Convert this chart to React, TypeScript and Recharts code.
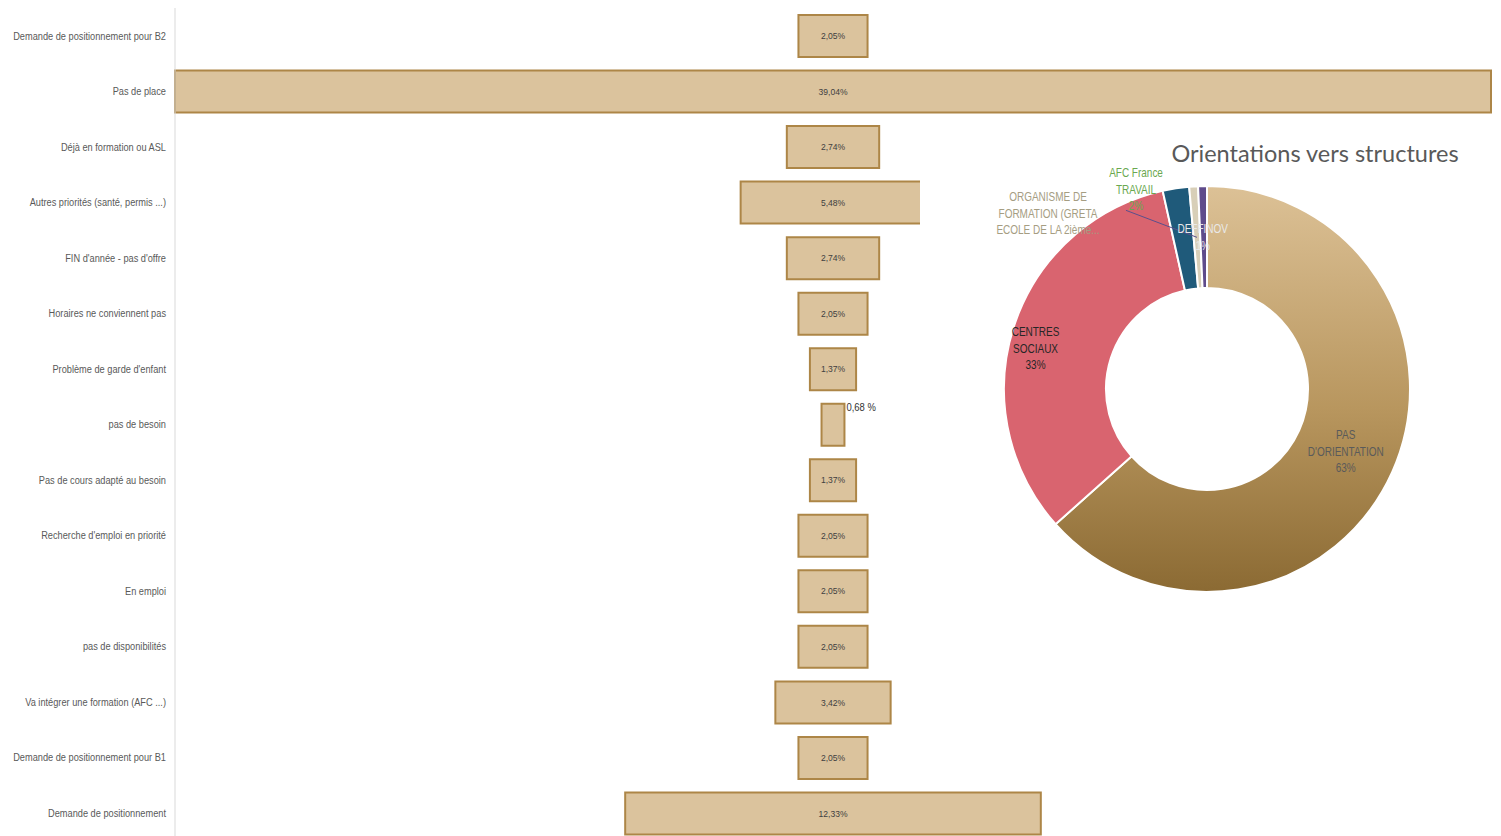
import React from 'react';
import { BarChart, Bar, XAxis, YAxis, LabelList, PieChart, Pie, Cell } from 'recharts';

// ---- Data ----
const categories = [
  'Demande de positionnement pour B2',
  'Pas de place',
  'Déjà en formation ou ASL',
  'Autres priorités (santé, permis ...)',
  "FIN d'année - pas d'offre",
  'Horaires ne conviennent pas',
  "Problème de garde d'enfant",
  'pas de besoin',
  'Pas de cours adapté au besoin',
  "Recherche d'emploi en priorité",
  'En emploi',
  'pas de disponibilités',
  'Va intégrer une formation (AFC ...)',
  'Demande de positionnement pour B1',
  'Demande de positionnement',
];
const values = [2.05, 39.04, 2.74, 5.48, 2.74, 2.05, 1.37, 0.68, 1.37, 2.05, 2.05, 2.05, 3.42, 2.05, 12.33];

const pieNames = [
  "PAS D'ORIENTATION",
  'CENTRES SOCIAUX',
  'AFC France TRAVAIL',
  'ORGANISME DE FORMATION (GRETA ECOLE DE LA 2ième...',
  'DEFFINOV',
];
const pieValues = [63.4, 33.1, 2.1, 0.7, 0.7];
const pieLabelLines = [
  ['PAS', "D'ORIENTATION"],
  ['CENTRES', 'SOCIAUX'],
  ['AFC France', 'TRAVAIL'],
  ['ORGANISME DE', 'FORMATION (GRETA', 'ECOLE DE LA 2ième...'],
  ['DEFFINOV'],
];
const pieShowPct = [true, true, true, false, true];
const pieTitle = 'Orientations vers structures';

// ---- Derived tables ----
const MAX = Math.max(...values);
const barData = categories.map((name, i) => ({
  name,
  value: values[i],
  offset: (MAX - values[i]) / 2,
}));
const pieData = pieNames.map((name, i) => ({ name, value: pieValues[i] }));

// ---- Styles ----
const SANS = '"Liberation Sans", Arial, sans-serif';
const pieColors = ['url(#tanGrad)', '#d9646f', '#1f5a7a', '#d8cfb8', '#5f4b8b'];
const pieLabelColors = ['#5a5a5a', '#262626', '#6aa84f', '#a59d82', '#e9e9e9'];
const pieLabelGeom = [
  { r: 152, dx: 0, dy: 0 },
  { r: 178, dx: -2, dy: 14 },
  { r: 215, dx: -38, dy: 13 },
  { r: 152, dx: -149, dy: -24 },
  { r: 152, dx: -1, dy: 0 },
];

const fmt = (v: number) => v.toFixed(2).replace('.', ',');

const CategoryTick = (props: any) => {
  const { x, y, payload } = props;
  return (
    <text
      transform={`translate(${x},${y}) scale(0.84,1)`}
      textAnchor="end"
      dominantBaseline="central"
      fontSize={11}
      fill="#595959"
      fontFamily={SANS}
    >
      {payload.value}
    </text>
  );
};

const BarLabel = (props: any) => {
  const { x, y, width, height, value } = props;
  if (value < 1) {
    return (
      <text
        transform={`translate(${x + width + 2},${y + 7}) scale(0.9,1)`}
        fontSize={10.5}
        fill="#333"
        fontFamily={SANS}
      >
        {fmt(value) + ' %'}
      </text>
    );
  }
  return (
    <text
      transform={`translate(${x + width / 2},${y + height / 2}) scale(0.9,1)`}
      textAnchor="middle"
      dominantBaseline="central"
      fontSize={9.5}
      fill="#404040"
      fontFamily={SANS}
    >
      {fmt(value) + '%'}
    </text>
  );
};

const RAD = Math.PI / 180;
const renderPieLabel = (props: any) => {
  const { cx, cy, midAngle, index, value } = props;
  const g = pieLabelGeom[index];
  const px = cx + g.r * Math.cos(-midAngle * RAD);
  const py = cy + g.r * Math.sin(-midAngle * RAD);
  const lx = px + g.dx;
  const ly = py + g.dy;
  const lines = [...pieLabelLines[index]];
  if (pieShowPct[index]) lines.push(`${Math.round(value)}%`);
  const lh = 16.5;
  const y0 = ly - ((lines.length - 1) * lh) / 2;
  return (
    <g key={`lbl-${index}`}>
      {index === 3 && (
        <line x1={px} y1={py} x2={lx + 78} y2={ly - 3} stroke="#5a4f8c" strokeWidth={1} />
      )}
      <text
        transform={`translate(${lx},${y0}) scale(0.8,1)`}
        textAnchor="middle"
        fontSize={12.5}
        fill={pieLabelColors[index]}
        fontFamily={SANS}
      >
        {lines.map((t, k) => (
          <tspan key={k} x={0} y={k * lh} dominantBaseline="central">
            {t}
          </tspan>
        ))}
      </text>
    </g>
  );
};

export default function App() {
  return (
    <div
      style={{
        position: 'absolute',
        left: 0,
        top: 0,
        width: 1501,
        height: 836,
        overflow: 'hidden',
        background: '#fff',
      }}
    >
      <BarChart
        width={1501}
        height={841}
        data={barData}
        layout="vertical"
        margin={{ top: 8, right: 10, bottom: 0, left: 0 }}
      >
        <XAxis type="number" hide domain={[0, MAX]} />
        <YAxis
          type="category"
          dataKey="name"
          width={175}
          tickLine={false}
          axisLine={{ stroke: '#d9d9d9' }}
          tick={<CategoryTick />}
          tickMargin={3}
          interval={0}
        />
        <Bar dataKey="offset" stackId="a" fill="transparent" isAnimationActive={false} barSize={42} />
        <Bar
          dataKey="value"
          stackId="a"
          fill="#dbc39d"
          stroke="#ad8647"
          strokeWidth={2}
          isAnimationActive={false}
          barSize={42}
        >
          <LabelList dataKey="value" content={BarLabel} />
        </Bar>
      </BarChart>

      <div
        style={{
          position: 'absolute',
          left: 920,
          top: 120,
          width: 581,
          height: 478,
          background: '#fff',
        }}
      >
        <PieChart width={581} height={478} margin={{ top: 0, right: 0, bottom: 0, left: 0 }}>
          <defs>
            <linearGradient id="tanGrad" x1="0" y1="0" x2="0" y2="1">
              <stop offset="0%" stopColor="#dcc196" />
              <stop offset="55%" stopColor="#b8965e" />
              <stop offset="100%" stopColor="#8b6a33" />
            </linearGradient>
          </defs>
          <Pie
            data={pieData}
            dataKey="value"
            nameKey="name"
            cx={287}
            cy={269}
            innerRadius={101}
            outerRadius={203}
            startAngle={90}
            endAngle={-270}
            stroke="#ffffff"
            strokeWidth={2}
            isAnimationActive={false}
            label={renderPieLabel}
            labelLine={false}
          >
            {pieData.map((_, i) => (
              <Cell key={i} fill={pieColors[i]} />
            ))}
          </Pie>
        </PieChart>
        <svg
          width={581}
          height={60}
          style={{ position: 'absolute', left: 0, top: 10, pointerEvents: 'none' }}
        >
          <text
            x={395}
            y={32}
            textAnchor="middle"
            fontSize={23.5}
            fill="#595959"
            fontFamily='"Lato", "DejaVu Sans", sans-serif'
          >
            {pieTitle}
          </text>
        </svg>
      </div>
    </div>
  );
}
